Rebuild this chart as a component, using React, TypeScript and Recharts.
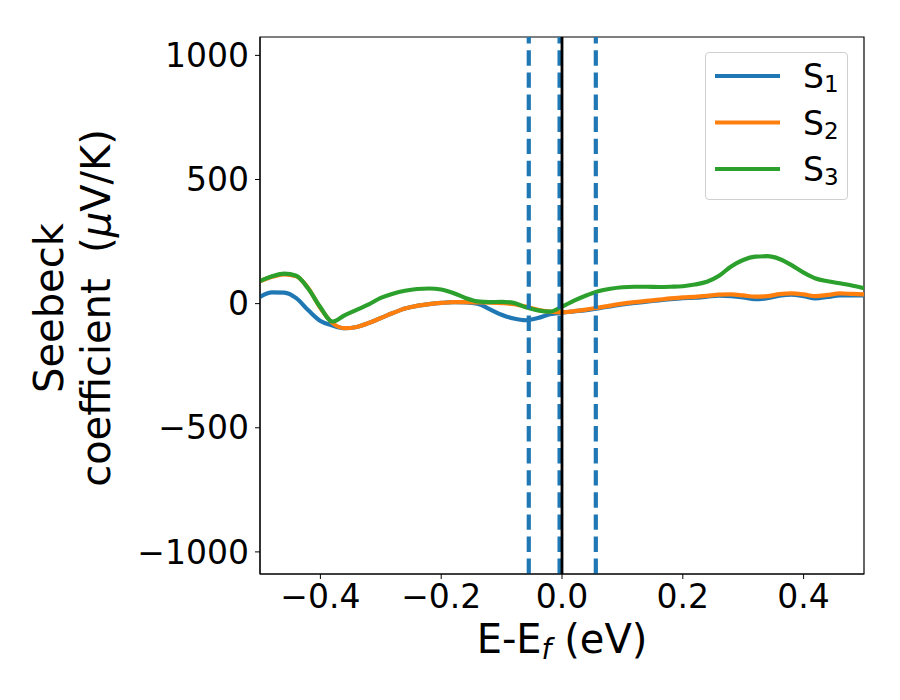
import {
  Legend,
  Line,
  LineChart,
  ReferenceArea,
  ReferenceLine,
  XAxis,
  YAxis,
} from "recharts";

// energy grid (eV), step 0.02
const energies = [
  -0.5, -0.48, -0.46, -0.44, -0.42, -0.4, -0.38, -0.36, -0.34, -0.32, -0.3,
  -0.28, -0.26, -0.24, -0.22, -0.2, -0.18, -0.16, -0.14, -0.12, -0.1, -0.08,
  -0.06, -0.04, -0.02, 0, 0.02, 0.04, 0.06, 0.08, 0.1, 0.12, 0.14, 0.16, 0.18,
  0.2, 0.22, 0.24, 0.26, 0.28, 0.3, 0.32, 0.34, 0.36, 0.38, 0.4, 0.42, 0.44,
  0.46, 0.48, 0.5,
];

const s1 = [
  27, 45, 44, 22, -27, -70, -88, -99, -94, -78, -58, -38, -20, -9, -2, 3, 6, 5,
  0, -22, -45, -60, -67, -58, -43, -36, -31, -26, -19, -11, -3, 3, 8, 13, 18,
  22, 24, 28, 32, 30, 25, 18, 22, 32, 36, 30, 21, 27, 33, 33, 33,
];

const s2 = [
  90, 108, 118, 110, 62, -18, -78, -99, -94, -78, -58, -38, -20, -9, -2, 3, 6,
  6, 5, 4, 2, -2, -12, -25, -32, -35, -30, -24, -16, -8, 0, 6, 11, 16, 21, 25,
  27, 31, 36, 37, 33, 28, 30, 38, 41, 37, 30, 35, 41, 39, 37,
];

const s3 = [
  91, 110, 121, 112, 60, -15, -72, -47, -25, -3, 23, 40, 52, 59, 61, 57, 43, 23,
  9, 6, 7, 3, -15, -27, -32, -12, 12, 33, 50, 60, 66, 68, 68, 67, 68, 70, 77,
  88, 112, 150, 176, 189, 191, 180, 155, 125, 101, 90, 82, 73, 62,
];

const xTicks = [-0.4, -0.2, 0, 0.2, 0.4];
const yTicks = [-1000, -500, 0, 500, 1000];
const dashedMarks = [-0.055, -0.004, 0.056];

const seriesNames = ["S1", "S2", "S3"];
const COLORS = ["#1f77b4", "#ff7f0e", "#2ca02c"];
const FONT = "DejaVu Sans";

const data = energies.map((e, i) => ({ e, S1: s1[i], S2: s2[i], S3: s3[i] }));

const minus = (s: string) => s.replace("-", "\u2212");

function YLabel() {
  return (
    <g fontFamily={FONT} fontSize={40} fill="#000" textAnchor="middle">
      <text transform="translate(63,308) rotate(-90)">Seebeck</text>
      <text transform="translate(110,308) rotate(-90)" xmlSpace="preserve">
        coefficient{"  "}(<tspan fontStyle="italic">μ</tspan>V/K)
      </text>
    </g>
  );
}

function XLabel() {
  return (
    <text
      x={562}
      y={653}
      fontFamily={FONT}
      fontSize={40}
      fill="#000"
      textAnchor="middle"
    >
      E-E
      <tspan fontStyle="italic" fontSize={28} dy={6}>
        f
      </tspan>
      <tspan dy={-6}> (eV)</tspan>
    </text>
  );
}

function LegendBox() {
  return (
    <div
      style={{
        width: 141,
        height: 146,
        border: "1px solid #d0d0d0",
        borderRadius: 4,
        background: "rgba(255,255,255,0.8)",
      }}
    >
      <svg width={141} height={146}>
        {seriesNames.map((n, i) => {
          const y = 23 + i * 46.5;
          return (
            <g key={n}>
              <line x1={9} x2={74} y1={y} y2={y} stroke={COLORS[i]} strokeWidth={4.2} />
              <text x={97} y={y + 12} fontFamily={FONT} fontSize={33} fill="#000">
                S
                <tspan fontSize={23} dy={4}>
                  {i + 1}
                </tspan>
              </text>
            </g>
          );
        })}
      </svg>
    </div>
  );
}

export default function App() {
  return (
    <div style={{ position: "absolute", left: 0, top: 0, width: 900, height: 700, background: "#fff" }}>
      <LineChart
        width={900}
        height={700}
        data={data}
        margin={{ top: 37, right: 36, left: 60, bottom: 0 }}
      >
        <XAxis
          dataKey="e"
          type="number"
          domain={[-0.5, 0.5]}
          ticks={xTicks}
          allowDataOverflow
          height={126}
          stroke="#000"
          tickSize={5}
          tickMargin={6}
          tick={{ fill: "#000", fontSize: 33, fontFamily: FONT }}
          tickFormatter={(v: number) => minus(v.toFixed(1))}
          label={{ content: () => <XLabel /> }}
        />
        <YAxis
          type="number"
          domain={[-1089, 1074]}
          ticks={yTicks}
          allowDataOverflow
          width={200}
          stroke="#000"
          tickSize={5}
          tickMargin={6}
          tick={{ fill: "#000", fontSize: 33, fontFamily: FONT }}
          tickFormatter={(v: number) => minus(String(v))}
          label={{ content: () => <YLabel /> }}
        />
        <ReferenceArea
          x1={-0.5}
          x2={0.5}
          y1={-1089}
          y2={1074}
          stroke="#000"
          strokeWidth={1.2}
          fill="none"
          fillOpacity={0}
        />
        {seriesNames.map((n, i) => (
          <Line
            key={n}
            dataKey={n}
            type="monotone"
            stroke={COLORS[i]}
            strokeWidth={4.2}
            dot={false}
            isAnimationActive={false}
          />
        ))}
        {dashedMarks.map((x) => (
          <ReferenceLine
            key={x}
            x={x}
            stroke="#1f77b4"
            strokeWidth={4.2}
            strokeDasharray="15.4 6.7"
          />
        ))}
        <ReferenceLine x={0} stroke="#000" strokeWidth={2.8} />
        <Legend
          layout="vertical"
          align="center"
          verticalAlign="middle"
          wrapperStyle={{ left: 705, top: 52, width: 143, height: 148 }}
          content={() => <LegendBox />}
        />
      </LineChart>
    </div>
  );
}
